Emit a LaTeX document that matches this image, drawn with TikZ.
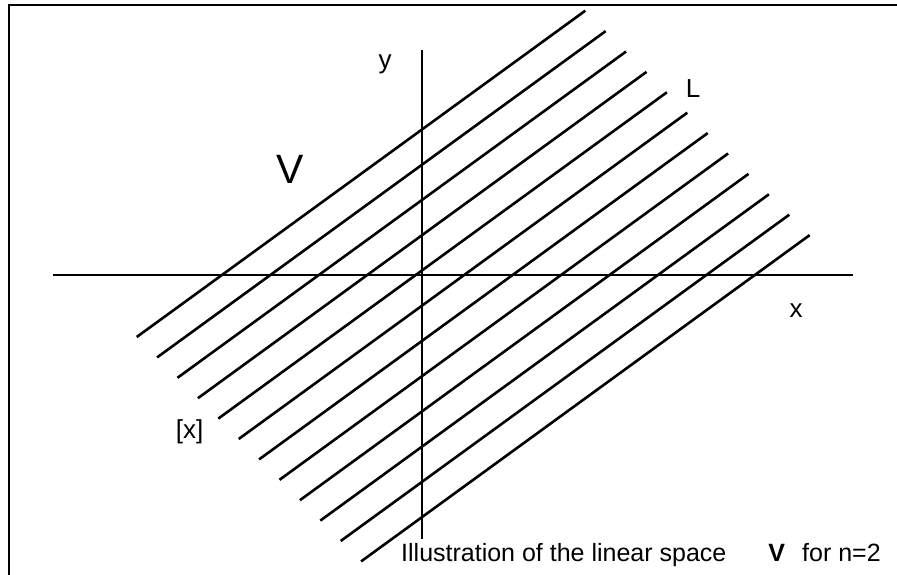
\documentclass[tikz,border=0pt]{standalone}
\usepackage{fontspec}
\setmainfont{Liberation Sans}

\begin{document}
\begin{tikzpicture}[
    x=1pt, y=-1pt,
    frame/.style={line width=2pt},
    axis/.style={line width=2pt},
    coset/.style={line width=2.6pt},
    lbl/.style={
        inner sep=0pt,
        anchor=base,
        font=\fontsize{26}{30}\selectfont
    },
    caption/.style={
        inner sep=0pt,
        anchor=base west,
        font=\fontsize{25}{30}\selectfont
    }
]
    \useasboundingbox (0,0) rectangle (897,575);

    % Frame (open to the right and bottom)
    \draw[frame] (8.5,580) -- (8.5,5.5) -- (900,5.5);

    % Axes
    \draw[axis] (53,275) -- (853,275);
    \draw[axis] (422,50) -- (422,539);

    % Classes [x] parallel to L
    \foreach \i in {0,...,11}
        \draw[coset] ({136.7+20.4*\i},{337+20.4*\i}) -- ({585.3+20.4*\i},{10.7+20.4*\i});

    % Labels
    \node[lbl] (ylabel) at (385,68.5) {y};
    \node[lbl] (xlabel) at (796,317) {x};
    \node[lbl] (Llabel) at (693,98) {L};
    \node[lbl, font=\fontsize{41}{46}\selectfont] (Vlabel) at (290,183) {V};
    \node[lbl] (cls) at (189.5,438.5) {[x]};

    % Caption
    \node[caption] (captext) at (401,561.5) {Illustration of the linear space};
    \node[caption, anchor=base] (capV) at (776.7,561.5) {\textbf{V}};
    \node[caption] (capn) at (802,561.5) {for n=2};
\end{tikzpicture}
\end{document}
